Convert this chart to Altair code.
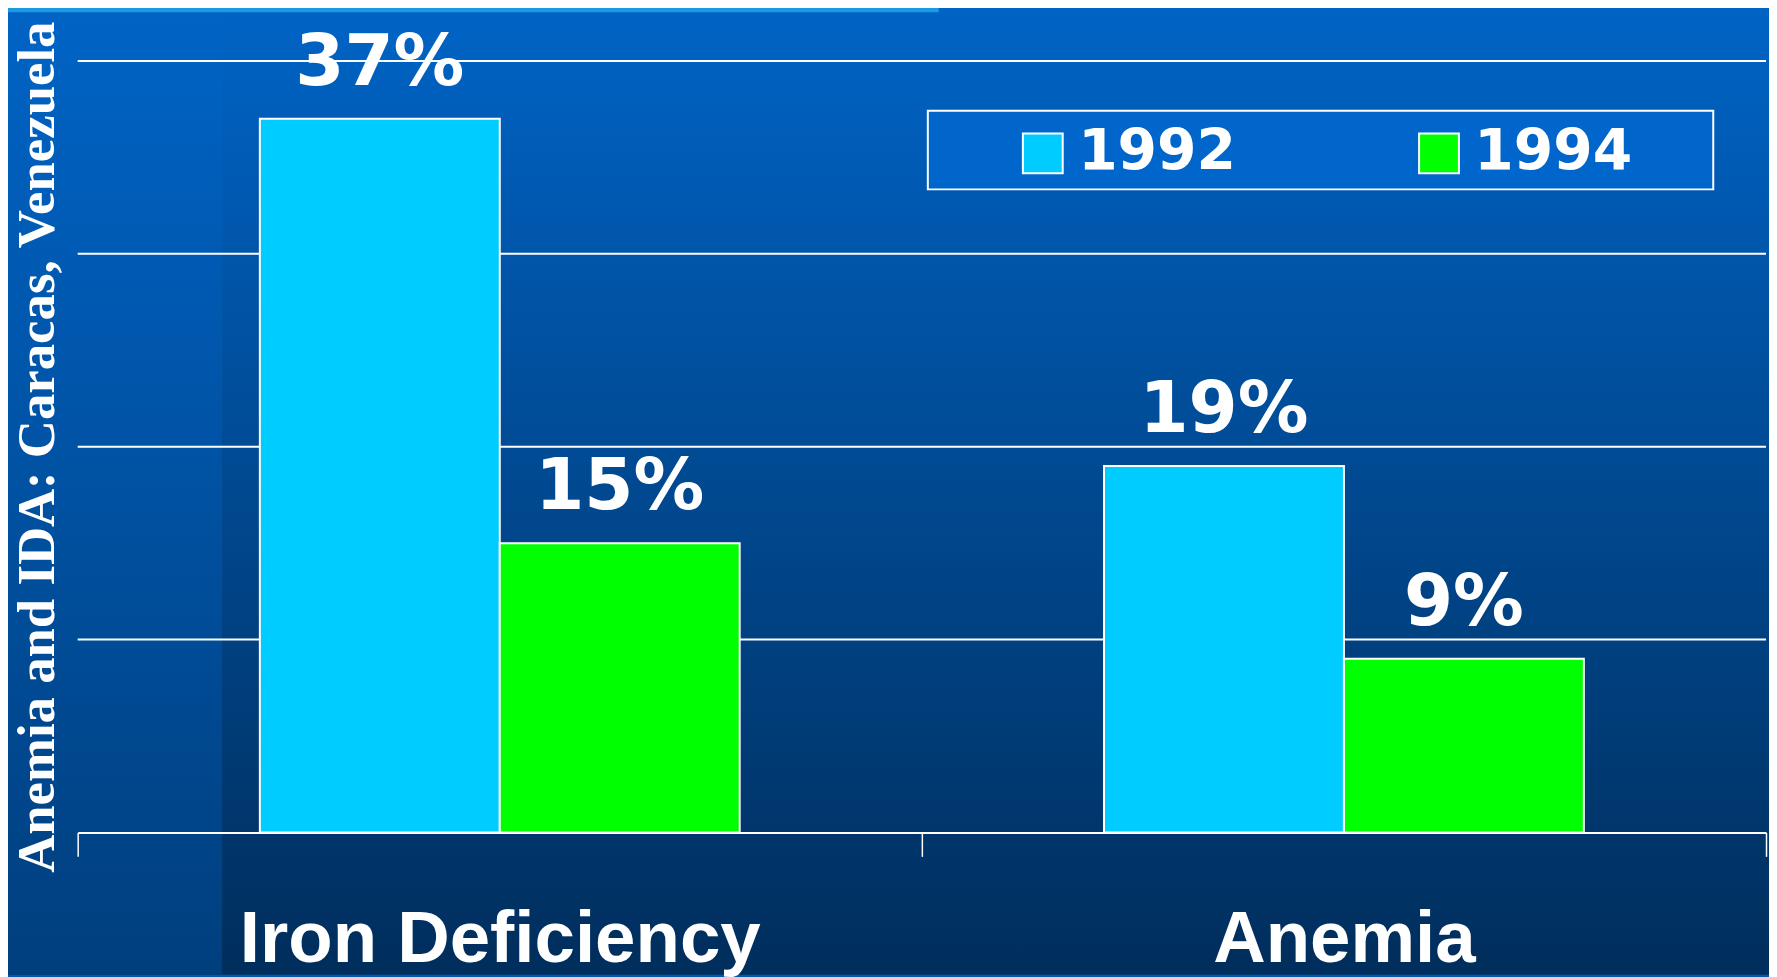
import altair as alt
import pandas as pd

# ---- data ----
categories = ["Iron Deficiency", "Iron Deficiency", "Anemia", "Anemia"]
years = ["1992", "1994", "1992", "1994"]
values = [37, 15, 19, 9]
value_labels = ["37%", "15%", "19%", "9%"]
category_order = ["Iron Deficiency", "Anemia"]
year_order = ["1992", "1994"]
year_colors = ["#00ccff", "#00ff00"]
grid_values = [10, 20, 30, 40]
y_title = "Anemia and IDA: Caracas, Venezuela"

df = pd.DataFrame({"category": categories, "year": years,
                   "value": values, "label": value_labels})
grid_df = pd.DataFrame({"v": grid_values})
one = alt.Data(values=[{}])

# plot area in page coordinates: x 78..1774, y 59..834 (page has an 8px margin)
OX, OY = 78, 59
W, H = 1696, 775
PAD = {"left": OX - 8, "top": OY - 8, "right": 3, "bottom": 977 - 8 - (OY - 8) - H}


def px(x):
    return x - OX


def py(y):
    return y - OY


main_grad = alt.LinearGradient(
    gradient="linear", x1=0, x2=0, y1=0, y2=1,
    stops=[alt.GradientStop(color="#0064c6", offset=0),
           alt.GradientStop(color="#002e5c", offset=1)])
left_grad = alt.LinearGradient(
    gradient="linear", x1=0, x2=0, y1=0, y2=1,
    stops=[alt.GradientStop(color="#0064c6", offset=0),
           alt.GradientStop(color="#003f7e", offset=1)])

bg = alt.Chart(one).mark_rect(color=main_grad).encode(
    x=alt.value(px(0)), x2=alt.value(px(1777)),
    y=alt.value(py(0)), y2=alt.value(py(977)))
left_strip = alt.Chart(one).mark_rect(color=left_grad).encode(
    x=alt.value(px(0)), x2=alt.value(px(223)),
    y=alt.value(py(0)), y2=alt.value(py(977)))
top_strip = alt.Chart(one).mark_rect(color="#1c9ae2").encode(
    x=alt.value(px(0)), x2=alt.value(px(943)),
    y=alt.value(py(0)), y2=alt.value(py(10)))

y_scale = alt.Scale(domain=[0, 40], nice=False, zero=True)
y_axis = alt.Axis(title=y_title, labels=False, ticks=False, domain=False, grid=False,
                  titleFont="Liberation Serif", titleFontWeight="bold",
                  titleFontSize=53, titleColor="white", titleAngle=270,
                  titleX=-24, titleY=H / 2, titleAlign="center", titleLimit=2000,
                  titleBaseline="alphabetic", zindex=1)

grid = alt.Chart(grid_df).mark_rule(color="white", strokeWidth=2).encode(
    y=alt.Y("v:Q", scale=y_scale, axis=y_axis, title=y_title))

legend_box = alt.Chart(one).mark_rect(color="#0066cc", stroke="white", strokeWidth=2).encode(
    x=alt.value(px(932)), x2=alt.value(px(1721)),
    y=alt.value(py(109)), y2=alt.value(py(188)))

x_enc = alt.X("category:N", sort=category_order, title=None,
              scale=alt.Scale(paddingInner=0, paddingOuter=0),
              axis=alt.Axis(title=None, labelAngle=0, domainColor="white", domainWidth=2,
                            tickColor="white", tickWidth=1.5, tickSize=24, tickBand="extent",
                            labelColor="white", labelFont="Liberation Sans",
                            labelFontWeight="bold", labelFontSize=73, labelLimit=1000,
                            labelBaseline="top", labelPadding=48, grid=False, zindex=1))
xoff_enc = alt.XOffset("year:N", sort=year_order,
                       scale=alt.Scale(paddingInner=0, paddingOuter=0.7593))

bars = alt.Chart(df).mark_bar(stroke="white", strokeWidth=2, opacity=1).encode(
    x=x_enc,
    xOffset=xoff_enc,
    y=alt.Y("value:Q", scale=y_scale, axis=y_axis, title=y_title),
    color=alt.Color("year:N", sort=year_order,
                    scale=alt.Scale(domain=year_order, range=year_colors),
                    legend=alt.Legend(title=None, orient="none", legendX=941, legendY=64,
                                      direction="horizontal", symbolType="square",
                                      symbolSize=1600, symbolStrokeColor="white",
                                      symbolStrokeWidth=2, symbolOpacity=1,
                                      labelColor="white", labelFont="DejaVu Sans",
                                      labelFontWeight="bold", labelFontSize=57,
                                      labelLimit=600, labelOffset=7,
                                      columnPadding=175, padding=0)),
)

texts = alt.Chart(df).mark_text(dy=-34, baseline="alphabetic", align="center",
                                font="DejaVu Sans", fontWeight="bold", fontSize=71,
                                color="white").encode(
    x=alt.X("category:N", sort=category_order, title=None),
    xOffset=alt.XOffset("year:N", sort=year_order),
    y=alt.Y("value:Q", scale=y_scale, axis=y_axis, title=y_title),
    text="label:N")

chart = alt.layer(bg, left_strip, top_strip, grid, legend_box, bars, texts).properties(
    width=W, height=H,
    autosize=alt.AutoSizeParams(type="none"),
    padding=PAD,
    background="#0058b0",
).configure_view(strokeWidth=0)

chart.save("out.html", embed_options={"renderer": "svg", "actions": False})
